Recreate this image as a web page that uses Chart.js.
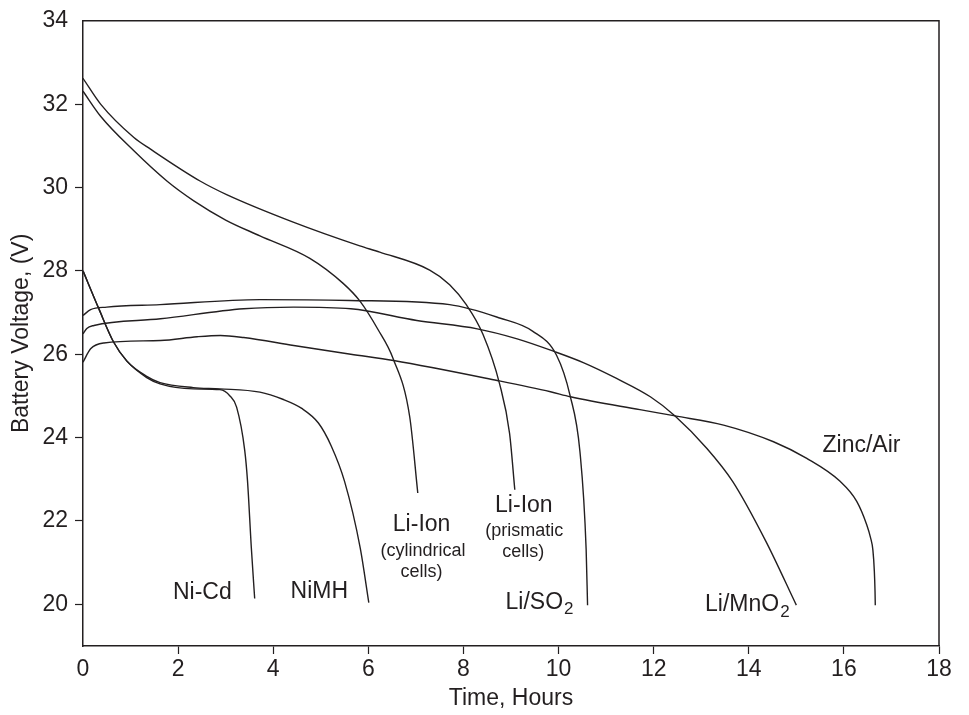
<!DOCTYPE html>
<html>
<head>
<meta charset="utf-8">
<script src="https://cdn.jsdelivr.net/npm/chart.js@4.4.1/dist/chart.umd.min.js"></script>
<style>
  html, body { margin: 0; padding: 0; background: #fff; }
  #wrap { width: 969px; height: 715px; }
</style>
</head>
<body>
<div id="wrap"><canvas id="batteryChart" width="969" height="715"></canvas></div>
<script>
// Discharge curves (hours, volts)
const niCdHours = [0, 0.33, 0.64, 0.92, 1.34, 1.62, 2.32, 2.88, 3.09, 3.23, 3.40, 3.46, 3.54, 3.61];
const niCdVolts = [28.0, 27.1, 26.3, 25.84, 25.44, 25.29, 25.17, 25.15, 25.0, 24.73, 23.7, 22.95, 21.35, 20.14];

const niMhHours = [0, 0.33, 0.64, 0.92, 1.34, 1.62, 2.32, 2.88, 3.72, 4.2, 4.6, 4.95, 5.22, 5.5, 5.83, 6.01];
const niMhVolts = [28.0, 27.1, 26.3, 25.84, 25.47, 25.32, 25.2, 25.17, 25.09, 24.92, 24.7, 24.35, 23.8, 22.95, 21.35, 20.04];

const liIonCylHours = [0, 0.37, 1.07, 1.77, 2.33, 3.0, 3.72, 4.77, 5.47, 5.82, 6.2, 6.52, 6.87, 7.04];
const liIonCylVolts = [32.31, 31.71, 30.88, 30.15, 29.68, 29.22, 28.84, 28.3, 27.7, 27.28, 26.6, 25.9, 24.5, 22.67];

const liIonPrismHours = [0, 0.37, 1.07, 1.42, 2.47, 3.02, 4.42, 5.82, 6.24, 7.29, 7.71, 8.06, 8.41, 8.76, 8.97, 9.08];
const liIonPrismVolts = [32.62, 32.0, 31.2, 30.92, 30.15, 29.83, 29.17, 28.6, 28.45, 28.02, 27.67, 27.19, 26.48, 25.29, 24.1, 22.75];

const liSo2Hours = [0, 0.16, 0.5, 1.62, 3.72, 5.61, 7.71, 8.76, 9.46, 9.96, 10.24, 10.45, 10.58, 10.61];
const liSo2Volts = [26.93, 27.07, 27.13, 27.19, 27.31, 27.29, 27.19, 26.87, 26.55, 25.97, 25.02, 23.66, 21.32, 19.98];

const liMnO2Hours = [0, 0.08, 0.23, 1.63, 3.38, 4.43, 5.63, 7.02, 8.29, 9.13, 9.9, 10.52, 11.22, 11.93, 12.45, 13.12, 13.66, 14.36, 15.0];
const liMnO2Volts = [26.49, 26.62, 26.69, 26.85, 27.09, 27.13, 27.09, 26.81, 26.61, 26.37, 26.07, 25.8, 25.42, 24.98, 24.52, 23.74, 22.95, 21.51, 19.98];

const zincAirHours = [0, 0.16, 0.44, 1.63, 2.4, 2.89, 3.38, 4.43, 5.63, 6.53, 8.71, 9.83, 10.25, 11.71, 12.45, 13.47, 14.52, 15.22, 15.92, 16.27, 16.48, 16.56, 16.61, 16.64, 16.655, 16.66];
const zincAirVolts = [25.81, 26.13, 26.27, 26.33, 26.42, 26.45, 26.4, 26.21, 26.0, 25.85, 25.37, 25.1, 24.98, 24.67, 24.52, 24.3, 23.9, 23.5, 22.95, 22.47, 21.91, 21.6, 21.3, 20.8, 20.3, 19.98];

// Axis ticks
const hourTicks = [0, 2, 4, 6, 8, 10, 12, 14, 16, 18];
const voltTicks = [20, 22, 24, 26, 28, 30, 32, 34];

// Curve labels, anchored in data units (hours, volts)
const labelTexts = ['Ni-Cd', 'NiMH', 'Li-Ion', '(cylindrical', 'cells)', 'Li-Ion', '(prismatic', 'cells)', 'Zinc/Air'];
const labelHours = [2.51, 4.97, 7.12, 7.15, 7.12, 9.27, 9.28, 9.26, 16.37];
const labelVolts = [20.29, 20.3, 21.9, 21.29, 20.77, 22.37, 21.75, 21.26, 23.81];
const labelSmall = [false, false, false, true, true, false, true, true, false];

// Labels with a subscript digit
const subLabelBase = ['Li/SO', 'Li/MnO'];
const subLabelSub = ['2', '2'];
const subLabelHours = [9.59, 13.96];
const subLabelVolts = [20.04, 19.98];

const INK = '#231f20';
const FONT = '"Liberation Sans", Arial, Helvetica, sans-serif';

const toPoints = (xs, ys) => xs.map((x, i) => ({ x, y: ys[i] }));

const series = [
  toPoints(niCdHours, niCdVolts),
  toPoints(niMhHours, niMhVolts),
  toPoints(liIonCylHours, liIonCylVolts),
  toPoints(liIonPrismHours, liIonPrismVolts),
  toPoints(liSo2Hours, liSo2Volts),
  toPoints(liMnO2Hours, liMnO2Volts),
  toPoints(zincAirHours, zincAirVolts)
];

const datasets = series.map(data => ({
  data,
  borderColor: INK,
  borderWidth: 1.4,
  pointRadius: 0,
  fill: false,
  cubicInterpolationMode: 'monotone'
}));

// Box outline plus the text labels sitting next to the curves
const framePlugin = {
  id: 'frameAndLabels',
  afterDatasetsDraw(chart) {
    const { ctx, chartArea: a, scales: { x, y } } = chart;
    ctx.save();
    ctx.strokeStyle = INK;
    ctx.lineWidth = 1.5;
    ctx.beginPath();
    ctx.moveTo(a.left, a.top);
    ctx.lineTo(a.right, a.top);
    ctx.lineTo(a.right, a.bottom);
    ctx.stroke();

    ctx.fillStyle = INK;
    ctx.textAlign = 'center';
    ctx.textBaseline = 'middle';
    labelTexts.forEach((t, i) => {
      ctx.font = (labelSmall[i] ? '18px ' : '23px ') + FONT;
      ctx.fillText(t, x.getPixelForValue(labelHours[i]), y.getPixelForValue(labelVolts[i]));
    });

    ctx.textAlign = 'left';
    subLabelBase.forEach((t, i) => {
      ctx.font = '23px ' + FONT;
      const wMain = ctx.measureText(t).width;
      ctx.font = '17px ' + FONT;
      const wSub = ctx.measureText(subLabelSub[i]).width;
      const cx = x.getPixelForValue(subLabelHours[i]);
      const cy = y.getPixelForValue(subLabelVolts[i]);
      const left = cx - (wMain + wSub) / 2;
      ctx.font = '23px ' + FONT;
      ctx.fillText(t, left, cy);
      ctx.font = '17px ' + FONT;
      ctx.fillText(subLabelSub[i], left + wMain + 1, cy + 7);
    });
    ctx.restore();
  }
};

new Chart(document.getElementById('batteryChart'), {
  type: 'line',
  data: { datasets },
  options: {
    responsive: false,
    devicePixelRatio: 1,
    animation: false,
    layout: { padding: { top: 17, right: 30, left: 0, bottom: 0 } },
    plugins: {
      legend: { display: false },
      tooltip: { enabled: false }
    },
    scales: {
      x: {
        type: 'linear',
        min: 0,
        max: 18,
        afterBuildTicks: (s) => { s.ticks = hourTicks.map(value => ({ value })); },
        afterFit: (s) => { s.height = 69; },
        border: { display: true, color: INK, width: 1.5 },
        grid: {
          drawOnChartArea: false,
          drawTicks: true,
          tickLength: 8,
          tickWidth: 1.2,
          tickColor: (c) => c.tick && c.tick.value === 0 ? 'rgba(0,0,0,0)' : INK
        },
        ticks: { color: INK, font: { size: 23, family: FONT }, padding: 2, maxRotation: 0 },
        title: {
          display: true,
          text: 'Time, Hours',
          color: INK,
          font: { size: 23, family: FONT },
          padding: { top: 0, bottom: 3 }
        }
      },
      y: {
        type: 'linear',
        min: 19,
        max: 34,
        afterBuildTicks: (s) => { s.ticks = voltTicks.map(value => ({ value })); },
        afterFit: (s) => { s.width = 83; },
        border: { display: true, color: INK, width: 1.5 },
        grid: {
          drawOnChartArea: false,
          drawTicks: true,
          tickLength: 8,
          tickWidth: 1.2,
          tickColor: (c) => c.tick && c.tick.value === 34 ? 'rgba(0,0,0,0)' : INK
        },
        ticks: { color: INK, font: { size: 23, family: FONT }, padding: 7 },
        title: {
          display: true,
          text: 'Battery Voltage, (V)',
          color: INK,
          font: { size: 23, family: FONT },
          padding: { top: 8, bottom: 0 }
        }
      }
    }
  },
  plugins: [framePlugin]
});
</script>
</body>
</html>
